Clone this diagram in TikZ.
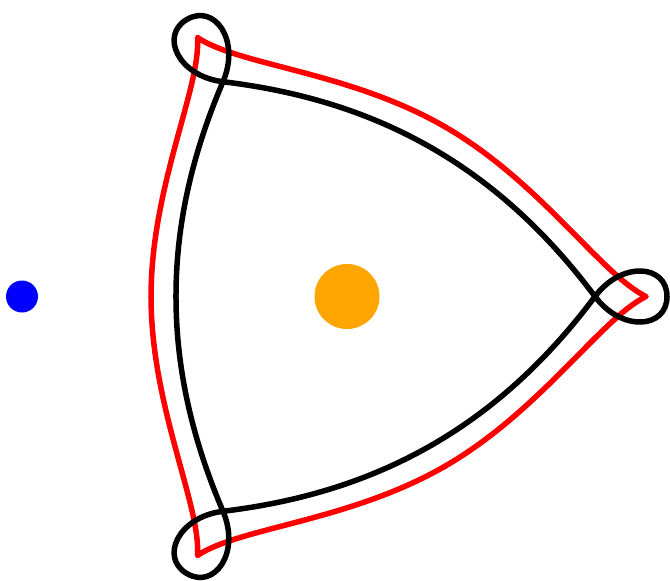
\documentclass[tikz,border=0pt]{standalone}
\usepackage{tikz}
\definecolor{orangedot}{HTML}{FFA500}

\begin{document}
\begin{tikzpicture}[x=1pt,y=-1pt,
  redline/.style={red,line width=5.5pt,line join=round,line cap=round},
  blackline/.style={black,line width=5.5pt,line join=round,line cap=round}]
\useasboundingbox (0,0) rectangle (670,581);
\coordinate (centre) at (347,296.5);
% red front, one corner per turn
\foreach \turn in {0,120,240}
  \draw[redline,shift={(centre)},rotate=\turn]
    (98,-169.7) .. controls (193.3,-114.7) and (254,-22) .. (299,0)
    .. controls (254,22) and (193.3,114.7) .. (98,169.7);
% black front, looping round each corner
\foreach \turn in {0,120,240}
  \draw[blackline,shift={(centre)},rotate=\turn]
    (85.5,-148.1) .. controls (150.5,-110.6) and (203,-60) .. (248,0)
    .. controls (275,36) and (320,32) .. (320,0)
    .. controls (320,-32) and (275,-36) .. (248,0)
    .. controls (203,60) and (150.5,110.6) .. (85.5,148.1);
\fill[orangedot] (centre) circle[radius=32.5pt];
\fill[blue] (22,296.5) circle[radius=16pt];
\end{tikzpicture}
\end{document}
